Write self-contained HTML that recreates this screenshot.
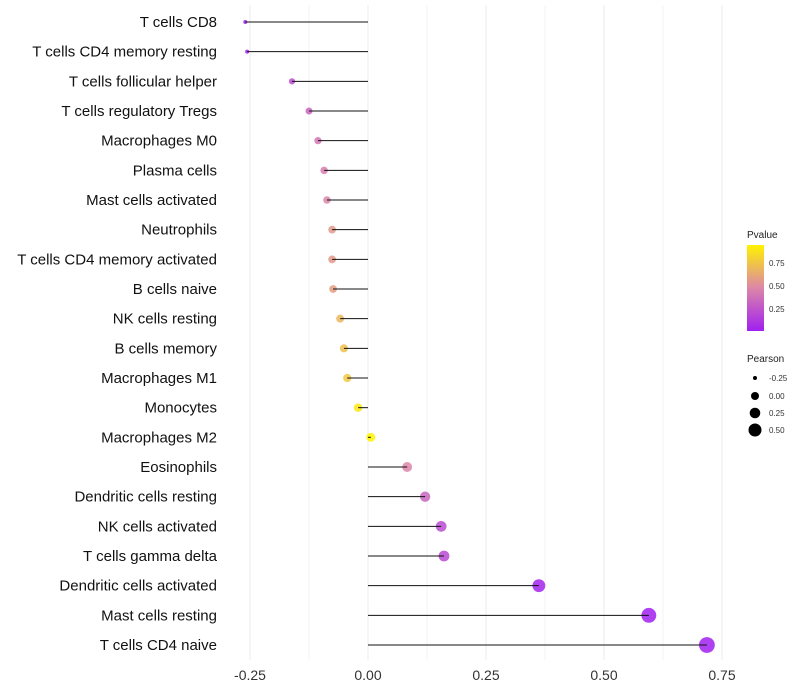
<!DOCTYPE html>
<html><head><meta charset="utf-8"><style>
body{margin:0;background:#fff;}
svg{display:block;font-family:"Liberation Sans",sans-serif;}
</style></head><body>
<svg id="chart" width="800" height="700">
<defs><linearGradient id="pg" x1="0" y1="1" x2="0" y2="0">
<stop offset="0" stop-color="#a020f0"/><stop offset="0.5" stop-color="#dc86a8"/><stop offset="1" stop-color="#fff200"/>
</linearGradient></defs>
<g id="grid"></g><g id="dots"></g><g id="marks"></g><g id="ylab"></g><g id="xlab"></g>
<g>
<text x="747" y="238" font-size="10" fill="#222">Pvalue</text>
<rect x="747" y="245" width="17" height="86" fill="url(#pg)"/>
<text x="769" y="266" font-size="8" fill="#333">0.75</text>
<text x="769" y="289" font-size="8" fill="#333">0.50</text>
<text x="769" y="312" font-size="8" fill="#333">0.25</text>
<text x="747" y="362" font-size="10" fill="#222">Pearson</text>
<circle cx="755" cy="378" r="2" fill="#000"/><text x="769" y="381" font-size="8" fill="#333">-0.25</text>
<circle cx="755" cy="396" r="4" fill="#000"/><text x="769" y="399" font-size="8" fill="#333">0.00</text>
<circle cx="755" cy="413" r="5.3" fill="#000"/><text x="769" y="416" font-size="8" fill="#333">0.25</text>
<circle cx="755" cy="430" r="6.5" fill="#000"/><text x="769" y="433" font-size="8" fill="#333">0.50</text>
</g>
</svg>
<script>
const categories=["T cells CD8","T cells CD4 memory resting","T cells follicular helper","T cells regulatory  Tregs","Macrophages M0","Plasma cells","Mast cells activated","Neutrophils","T cells CD4 memory activated","B cells naive","NK cells resting","B cells memory","Macrophages M1","Monocytes","Macrophages M2","Eosinophils","Dendritic cells resting","NK cells activated","T cells gamma delta","Dendritic cells activated","Mast cells resting","T cells CD4 naive"];
const pearson=[-0.26,-0.256,-0.161,-0.125,-0.106,-0.093,-0.087,-0.076,-0.076,-0.074,-0.059,-0.051,-0.044,-0.021,0.006,0.083,0.121,0.155,0.161,0.362,0.595,0.718];
const pvalue=[0.0,0.01,0.22,0.33,0.42,0.46,0.5,0.58,0.58,0.6,0.7,0.74,0.78,0.9,0.97,0.5,0.34,0.22,0.2,0.02,0.0,0.0];
const xTicks=[-0.25,0,0.25,0.5,0.75];
const xTickLabels=["-0.25","0.00","0.25","0.50","0.75"];
const NS="http://www.w3.org/2000/svg";
const x=v=>368+v*472;
const y=i=>22+i*(623/21);
const r=v=>Math.sqrt(Math.max(4,19.5+60*v));
function lerp(a,b,t){return a.map((c,k)=>Math.round(c+(b[k]-c)*t));}
function col(p){const s=[[0,[160,32,240]],[0.5,[220,134,168]],[0.95,[255,242,0]]];p=Math.max(0,Math.min(0.95,p));
 for(let k=0;k<s.length-1;k++){if(p<=s[k+1][0]){const c=lerp(s[k][1],s[k+1][1],(p-s[k][0])/(s[k+1][0]-s[k][0]));return`rgb(${c})`;}}return"rgb(255,242,0)";}
function mk(t,a,parent){const e=document.createElementNS(NS,t);for(const k in a)e.setAttribute(k,a[k]);document.getElementById(parent).appendChild(e);return e;}
for(let v=-0.25;v<=0.751;v+=0.125){
 const g=mk("line",{x1:x(v),x2:x(v),y1:5,y2:660,stroke:"#ebebeb","stroke-width":Math.abs((v/0.25)%1)<0.01?1:0.6},"grid");
 
 
}
xTicks.forEach((v,i)=>{const t=mk("text",{x:x(v),y:680,"text-anchor":"middle","font-size":14,fill:"#333"},"xlab");t.textContent=xTickLabels[i];
 
 });
categories.forEach((c,i)=>{
 const t=mk("text",{x:217,y:y(i)+5,"text-anchor":"end","font-size":15,fill:"#111","xml:space":"preserve"},"ylab");t.textContent=c;
 
 
 const d=mk("circle",{cx:x(pearson[i]),cy:y(i),r:r(pearson[i]),fill:col(pvalue[i]),"fill-opacity":0.85},"dots");
 
 
 const l=mk("line",{x1:x(0),x2:x(pearson[i]),y1:y(i),y2:y(i),stroke:"#111","stroke-width":1},"marks");
 
 
});
</script>
</body></html>
